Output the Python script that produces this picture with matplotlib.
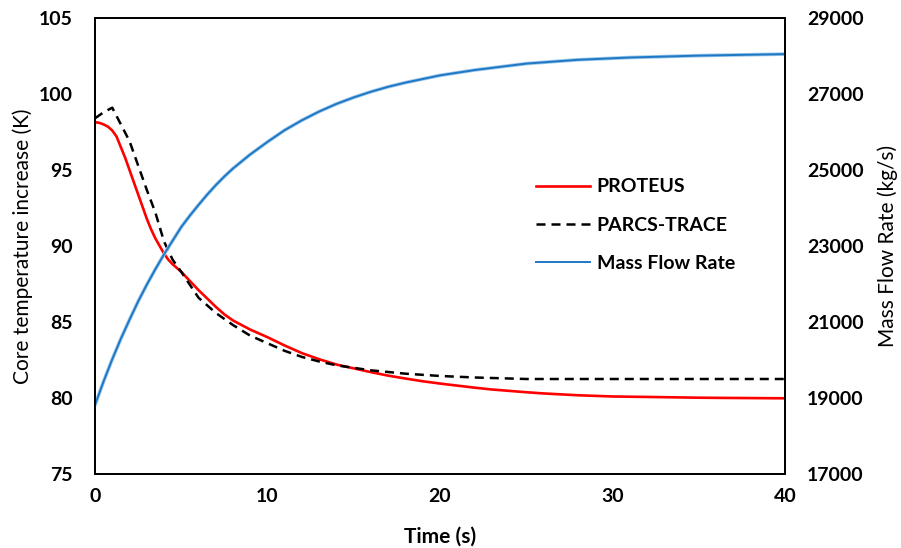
import matplotlib
matplotlib.use("Agg")
from matplotlib import pyplot as plt

plt.rcParams['font.family'] = ['Lato', 'DejaVu Sans']

# PROTEUS core temperature increase (K)
t_proteus = [0, 0.25, 0.5, 0.75, 1, 1.25, 1.5, 1.75, 2, 2.25, 2.5, 2.75, 3, 3.25,
             3.5, 3.75, 4, 4.25, 4.5, 4.75, 5, 5.5, 6, 6.5, 7, 7.5, 8, 8.5, 9,
             9.5, 10, 11, 12, 13, 14, 15, 16, 17, 18, 19, 20, 22, 23, 25, 26,
             28, 30, 32, 35, 36, 40]
temp_proteus = [98.15, 98.1, 98.0, 97.85, 97.6, 97.2, 96.5, 95.8, 95.0, 94.2, 93.4,
                92.6, 91.8, 91.1, 90.5, 90.0, 89.5, 89.1, 88.8, 88.55, 88.3, 87.7,
                87.1, 86.55, 86.0, 85.5, 85.1, 84.8, 84.5, 84.25, 84.0, 83.45, 82.95,
                82.55, 82.2, 81.95, 81.7, 81.47, 81.28, 81.1, 80.95, 80.68, 80.56,
                80.38, 80.3, 80.18, 80.1, 80.07, 80.02, 80.01, 79.98]

# PARCS-TRACE core temperature increase (K)
t_parcs = [0, 0.5, 1, 1.5, 2, 2.5, 3, 3.5, 4, 4.5, 5, 6, 7, 8, 9, 10, 11, 12, 13,
           14, 16, 18, 20, 22, 25, 30, 35, 40]
temp_parcs = [98.4, 98.8, 99.1, 98.0, 96.9, 95.3, 93.7, 92.2, 90.3, 89.1, 88.3,
              86.6, 85.6, 84.8, 84.1, 83.6, 83.1, 82.7, 82.4, 82.15, 81.82, 81.6,
              81.45, 81.35, 81.25, 81.25, 81.25, 81.25]

# Mass flow rate (kg/s)
t_flow = [0, 0.5, 1, 1.5, 2, 2.5, 3, 3.5, 4, 4.5, 5, 5.5, 6, 6.5, 7, 7.5, 8, 9,
          10, 11, 12, 13, 14, 15, 16, 17, 18, 20, 22, 25, 28, 31, 35, 40]
flow = [18816, 19440, 20020, 20560, 21060, 21540, 21980, 22390, 22780, 23140,
        23500, 23800, 24080, 24350, 24600, 24830, 25040, 25410, 25740, 26050,
        26310, 26540, 26740, 26910, 27060, 27190, 27300, 27490, 27630, 27800,
        27900, 27960, 28010, 28050]

fig = plt.figure(figsize=(9.01, 5.48), dpi=100)
ax = fig.add_axes([95/901, 1-474/548, 690/901, 456/548])
ax2 = ax.twinx()

l1, = ax.plot(t_proteus, temp_proteus, color='#FF0000', lw=1.9, label='PROTEUS')
l2, = ax.plot(t_parcs, temp_parcs, color='black', lw=1.8, ls=(0, (3.6, 2.4)),
              label='PARCS-TRACE')
ax2.plot(t_flow, flow, color='#9CC7EC', lw=2.6)
l3, = ax2.plot(t_flow, flow, color='#1F78C4', lw=1.4, label='Mass Flow Rate')

ax.set_xlim(0, 40)
ax.set_ylim(75, 105)
ax2.set_ylim(17000, 29000)
ax.set_xticks([0, 10, 20, 30, 40])
ax.set_yticks([75, 80, 85, 90, 95, 100, 105])
ax2.set_yticks(list(range(17000, 29001, 2000)))

ax.tick_params(axis='y', length=0, pad=16, labelsize=14)
ax.tick_params(axis='x', length=0, pad=10, labelsize=14)
ax2.tick_params(axis='y', length=0, pad=16, labelsize=14)
for lab in ax.get_xticklabels() + ax.get_yticklabels() + ax2.get_yticklabels():
    lab.set_fontweight('bold')

for a in (ax, ax2):
    for s in a.spines.values():
        s.set_linewidth(1.3)
        s.set_color('black')

ax.set_xlabel('Time (s)', fontsize=15, fontweight='bold', labelpad=16)
ax.set_ylabel('Core temperature increase (K)', fontsize=15, labelpad=4)
ax2.set_ylabel('Mass Flow Rate (kg/s)', fontsize=15, labelpad=10)

fig.legend(handles=[l1, l2, l3], loc='upper left', bbox_to_anchor=(518/901, 1-161/548),
           frameon=False, prop={'weight': 'bold', 'size': 14},
           handlelength=2.8, handletextpad=0.35, labelspacing=1.1)

plt.savefig('out.png', dpi=100)
